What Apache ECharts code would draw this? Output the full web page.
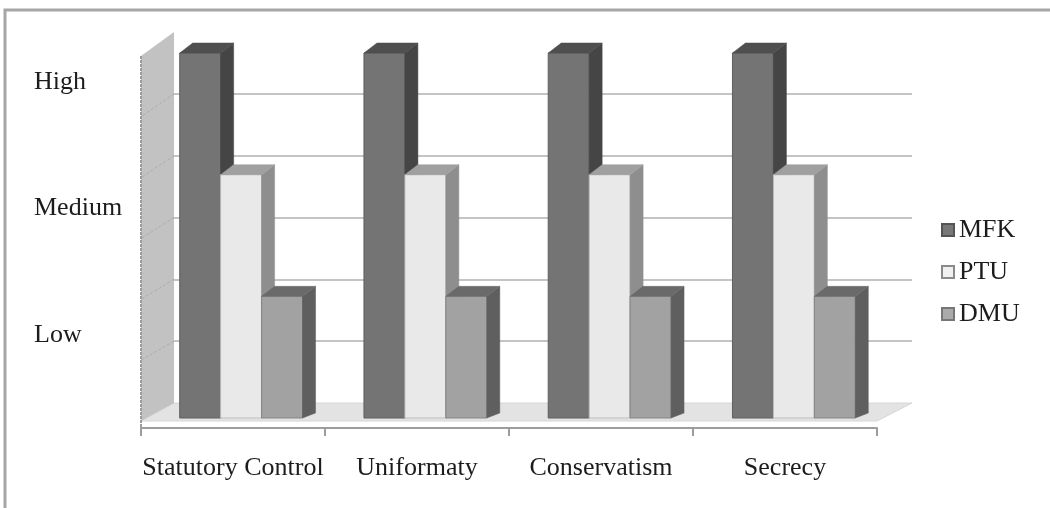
<!DOCTYPE html>
<html>
<head>
<meta charset="utf-8">
<script src="https://cdn.jsdelivr.net/npm/echarts@6/dist/echarts.min.js"></script>
<style>
  html, body { margin: 0; padding: 0; background: #ffffff; }
  #chart { width: 1050px; height: 508px; }
</style>
</head>
<body>
<div id="chart"></div>
<script>
// ---- data ----
const categories = ['Statutory Control', 'Uniformaty', 'Conservatism', 'Secrecy'];
const seriesNames = ['MFK', 'PTU', 'DMU'];
const mfkValues = [3, 3, 3, 3];
const ptuValues = [2, 2, 2, 2];
const dmuValues = [1, 1, 1, 1];
const levelValues = [1, 2, 3];
const levelLabels = ['Low', 'Medium', 'High'];

// ---- styling ----
const FONT = 'Liberation Serif';
const TEXT = '#1c1c1c';
const shades = [
  { front: '#747474', side: '#454545', top: '#4f4f4f', edge: '#606060', legendFill: '#787878', legendBorder: '#555555' },
  { front: '#e9e9e9', side: '#8e8e8e', top: '#a0a0a0', edge: '#bdbdbd', legendFill: '#f0f0f0', legendBorder: '#8a8a8a' },
  { front: '#a2a2a2', side: '#5f5f5f', top: '#6a6a6a', edge: '#858585', legendFill: '#aaaaaa', legendBorder: '#777777' }
];
const seriesValues = [mfkValues, ptuValues, dmuValues];

// depth of each column (back face offset, px)
const BAR_DX = 13, BAR_DY_TOP = -10, BAR_DY_BOTTOM = -5;
// offsets from back wall plane to the front edge of the floor/wall (px)
const WALL_DX = -33, WALL_DY_BOTTOM = 18, WALL_DY_TOP = 24;
const FLOOR_RIGHT_DX = -35;

// walls, floor and the side-wall gridlines of the 3D box
function renderBox(params, api) {
  const b0 = api.coord([0, 0]);
  const b3 = api.coord([0, 3]);
  const r0 = api.coord([4, 0]);
  const f0 = [b0[0] + WALL_DX, b0[1] + WALL_DY_BOTTOM];
  const f3 = [b3[0] + WALL_DX, b3[1] + WALL_DY_TOP];
  const fr = [r0[0] + FLOOR_RIGHT_DX, r0[1] + WALL_DY_BOTTOM];
  const children = [
    { type: 'polygon', shape: { points: [b0, r0, fr, f0] },
      style: { fill: '#e3e3e3', stroke: '#d6d6d6', lineWidth: 1 } },
    { type: 'polygon', shape: { points: [f0, b0, b3, f3] },
      style: { fill: '#c2c2c2', stroke: null } },
    { type: 'line', shape: { x1: f3[0], y1: f3[1], x2: f0[0], y2: f0[1] + 7 },
      style: { stroke: '#9c9c9c', lineWidth: 2, lineDash: [3, 1] } }
  ];
  for (let v = 0.5; v < 3; v += 0.5) {
    const p = api.coord([0, v]);
    const t = v / 3;
    const dy = WALL_DY_BOTTOM + (WALL_DY_TOP - WALL_DY_BOTTOM) * t;
    children.push({ type: 'line',
      shape: { x1: p[0], y1: p[1], x2: p[0] + WALL_DX, y2: p[1] + dy },
      style: { stroke: '#acacac', lineWidth: 1, lineDash: [3, 2] } });
  }
  return { type: 'group', children: children };
}

// a 3D column: front face, right side, top
function makeColumnRenderer(idx) {
  const c = shades[idx];
  return function (params, api) {
    const cat = api.value(0);
    const val = api.value(1);
    const base = api.coord([cat, 0]);
    const top = api.coord([cat, val]);
    const bw = api.size([1, 0])[0] * 2 / 9;
    const x0 = base[0] + (idx - 1.5) * bw;
    const x1 = x0 + bw;
    const yb = base[1], yt = top[1];
    return {
      type: 'group',
      children: [
        { type: 'polygon', shape: { points: [[x0, yb], [x1, yb], [x1, yt], [x0, yt]] },
          style: { fill: c.front, stroke: c.edge, lineWidth: 1 } },
        { type: 'polygon', shape: { points: [[x1, yb], [x1 + BAR_DX, yb + BAR_DY_BOTTOM], [x1 + BAR_DX, yt + BAR_DY_TOP], [x1, yt]] },
          style: { fill: c.side, stroke: c.side, lineWidth: 0.5 } },
        { type: 'polygon', shape: { points: [[x0, yt], [x1, yt], [x1 + BAR_DX, yt + BAR_DY_TOP], [x0 + BAR_DX, yt + BAR_DY_TOP]] },
          style: { fill: c.top, stroke: c.top, lineWidth: 0.5 } }
      ]
    };
  };
}

const hiddenAxis = { show: false };
const gridlineColors = ['rgba(0,0,0,0)', '#c4c4c4', '#c4c4c4', '#c4c4c4', '#c4c4c4', '#c4c4c4', 'rgba(0,0,0,0)'];

const columnSeries = seriesNames.map(function (name, i) {
  return {
    type: 'custom',
    name: name,
    xAxisIndex: 2,
    yAxisIndex: 2,
    z: 3 + i,
    itemStyle: { color: shades[i].front },
    encode: { x: 0, y: 1 },
    data: seriesValues[i].map(function (v, k) { return [k, v]; }),
    renderItem: makeColumnRenderer(i)
  };
});

const option = {
  animation: false,
  backgroundColor: '#ffffff',
  graphic: [{
    type: 'rect', silent: true, z: 0,
    shape: { x: 5, y: 10, width: 1200, height: 700 },
    style: { fill: 'transparent', stroke: '#a6a6a6', lineWidth: 3 }
  }],
  legend: {
    orient: 'vertical',
    left: 941,
    top: 215,
    padding: 0,
    itemWidth: 12,
    itemHeight: 12,
    itemGap: 12,
    textStyle: { fontFamily: FONT, fontSize: 26, color: TEXT, lineHeight: 30 },
    data: seriesNames.map(function (name, i) {
      return { name: name, icon: 'rect',
        itemStyle: { color: shades[i].legendFill, borderColor: shades[i].legendBorder, borderWidth: 2 } };
    })
  },
  grid: [
    { left: 174, right: 138, top: 32, bottom: 105 },   // back wall plane
    { left: 141, right: 173, top: 58, bottom: 87 },    // front edge of the floor
    { left: 149, right: 164, top: 53, bottom: 90 },    // column front faces
    { left: 141, right: 173, top: 82, bottom: 46 }     // level captions
  ],
  xAxis: [
    { gridIndex: 0, type: 'value', min: 0, max: 4, show: false },
    { gridIndex: 1, type: 'category', data: categories, offset: 7, z: 5,
      axisLine: { show: true, onZero: false, lineStyle: { color: '#9c9c9c', width: 2, type: [4, 1] } },
      axisTick: { show: true, inside: false, length: 8, lineStyle: { color: '#9c9c9c', width: 2 } },
      axisLabel: { interval: 0, margin: 27, fontFamily: FONT, fontSize: 26, color: TEXT } },
    { gridIndex: 2, type: 'category', data: categories, show: false },
    { gridIndex: 3, type: 'value', show: false }
  ],
  yAxis: [
    { gridIndex: 0, type: 'value', min: 0, max: 3, interval: 0.5,
      axisLine: hiddenAxis, axisTick: hiddenAxis, axisLabel: hiddenAxis,
      splitLine: { show: true, lineStyle: { color: gridlineColors, width: 2 } } },
    { gridIndex: 1, type: 'value', min: 0, max: 3, show: false },
    { gridIndex: 2, type: 'value', min: 0, max: 3, show: false },
    { gridIndex: 3, type: 'value', min: 0, max: 3, interval: 1,
      axisLine: hiddenAxis, axisTick: hiddenAxis, splitLine: hiddenAxis,
      axisLabel: {
        align: 'left', margin: 107, fontFamily: FONT, fontSize: 26, color: TEXT,
        formatter: function (v) {
          const k = levelValues.indexOf(v);
          return k >= 0 ? levelLabels[k] : '';
        }
      } }
  ],
  series: [
    {
      type: 'custom',
      name: 'box',
      xAxisIndex: 0,
      yAxisIndex: 0,
      z: 1,
      silent: true,
      data: [[0, 0]],
      renderItem: renderBox
    }
  ].concat(columnSeries)
};

const chart = echarts.init(document.getElementById('chart'), null, { renderer: 'canvas' });
chart.setOption(option);
</script>
</body>
</html>
